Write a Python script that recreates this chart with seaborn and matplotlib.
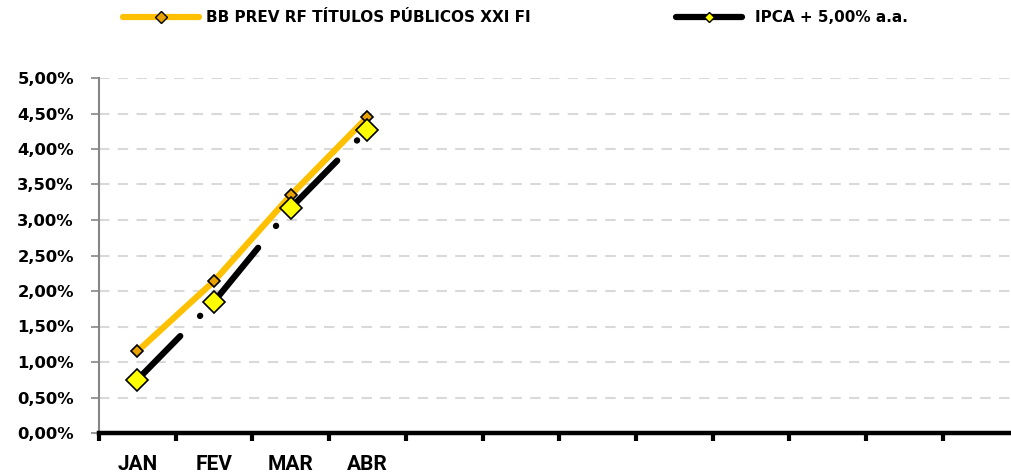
import matplotlib
matplotlib.use("Agg")
import matplotlib.pyplot as plt
from matplotlib.lines import Line2D
from matplotlib.ticker import FuncFormatter, FixedLocator
import seaborn as sns
import pandas as pd

# dados
months = ["JAN", "FEV", "MAR", "ABR"]
n_months = 12
fund_name = "BB PREV RF TÍTULOS PÚBLICOS XXI FI"
bench_name = "IPCA + 5,00% a.a."
fund_values = [1.15, 2.14, 3.35, 4.45]
bench_values = [0.75, 1.85, 3.17, 4.27]

sns.set_theme(style="white")
plt.rcParams["font.family"] = ["DejaVu Sans"]
plt.rcParams["font.weight"] = "bold"
plt.rcParams["text.color"] = "black"
plt.rcParams["xtick.labelcolor"] = "black"
plt.rcParams["ytick.labelcolor"] = "black"

df = pd.DataFrame({
    "idx": list(range(len(months))) * 2,
    "valor": [v / 100 for v in fund_values] + [v / 100 for v in bench_values],
    "serie": [fund_name] * len(months) + [bench_name] * len(months),
})

fig = plt.figure(figsize=(10.11, 4.76), dpi=100)
ax = fig.add_axes([99 / 1011, 1 - 433 / 476, 1 - 99 / 1011, (433 - 78) / 476])

orange = "#FFC000"
sns.lineplot(data=df[df.serie == fund_name], x="idx", y="valor", ax=ax,
             color=orange, lw=4.5, marker="D", markersize=6.5,
             markerfacecolor="#E8A200", markeredgecolor="black",
             markeredgewidth=1.2, solid_capstyle="round", zorder=3)
sns.lineplot(data=df[df.serie == bench_name], x="idx", y="valor", ax=ax,
             color="black", lw=4.5, marker="D", markersize=11,
             markerfacecolor="#FFFF00", markeredgecolor="black",
             markeredgewidth=1.2, dashes=False, zorder=4)
bl = ax.get_lines()[-1]
bl.set_dashes([9.8, 4.5, 0.05, 4.5])
bl.set_dash_capstyle("round")

ax.set_xlim(-0.5, -0.5 + (1011 - 99) / 76.7)
ax.set_ylim(0, 0.05)
ax.yaxis.set_major_locator(FixedLocator([i * 0.005 for i in range(11)]))
ax.yaxis.set_major_formatter(FuncFormatter(lambda v, p: f"{v*100:.2f}%".replace(".", ",")))
ax.grid(axis="y", color="#D9D9D9", lw=1.5, ls=(0, (5, 4)))
ax.set_axisbelow(True)

ax.set_xticks([i - 0.5 for i in range(n_months)])
ax.set_xticklabels([])
ax.set_xticks(list(range(len(months))), minor=True)
ax.set_xticklabels(months, minor=True, family=["Roboto", "DejaVu Sans"],
                   fontsize=15, fontweight="bold")
ax.tick_params(axis="x", which="major", direction="out", length=6, width=3, color="black", bottom=True)
ax.tick_params(axis="x", which="minor", length=0, pad=16)
ax.tick_params(axis="y", direction="out", length=6, width=1.2, color="#868686", labelsize=11.8, left=True, pad=12)

ax.set_xlabel("")
ax.set_ylabel("")
for s in ["top", "right"]:
    ax.spines[s].set_visible(False)
ax.spines["left"].set_color("#868686")
ax.spines["left"].set_linewidth(1.5)
ax.spines["bottom"].set_color("black")
ax.spines["bottom"].set_linewidth(3.2)
if ax.get_legend():
    ax.get_legend().remove()

h1 = Line2D([], [], color=orange, lw=4.5, marker="D", markersize=6.5,
            markerfacecolor="#E8A200", markeredgecolor="black", solid_capstyle="round")
h2 = Line2D([], [], color="black", lw=4.5, marker="D", markersize=5.5,
            markerfacecolor="#FFFF00", markeredgecolor="black", solid_capstyle="round")
fig.legend([h1], [fund_name], loc="center left", bbox_to_anchor=(123 / 1011, 1 - 18 / 476),
           frameon=False, handlelength=5.0, handletextpad=0.45, borderpad=0, borderaxespad=0,
           prop={"weight": "bold", "size": 11})
fig.legend([h2], [bench_name], loc="center left", bbox_to_anchor=(676 / 1011, 1 - 18 / 476),
           frameon=False, handlelength=4.3, handletextpad=0.9, borderpad=0, borderaxespad=0,
           prop={"weight": "bold", "size": 11})

fig.savefig("out.png", dpi=100)
